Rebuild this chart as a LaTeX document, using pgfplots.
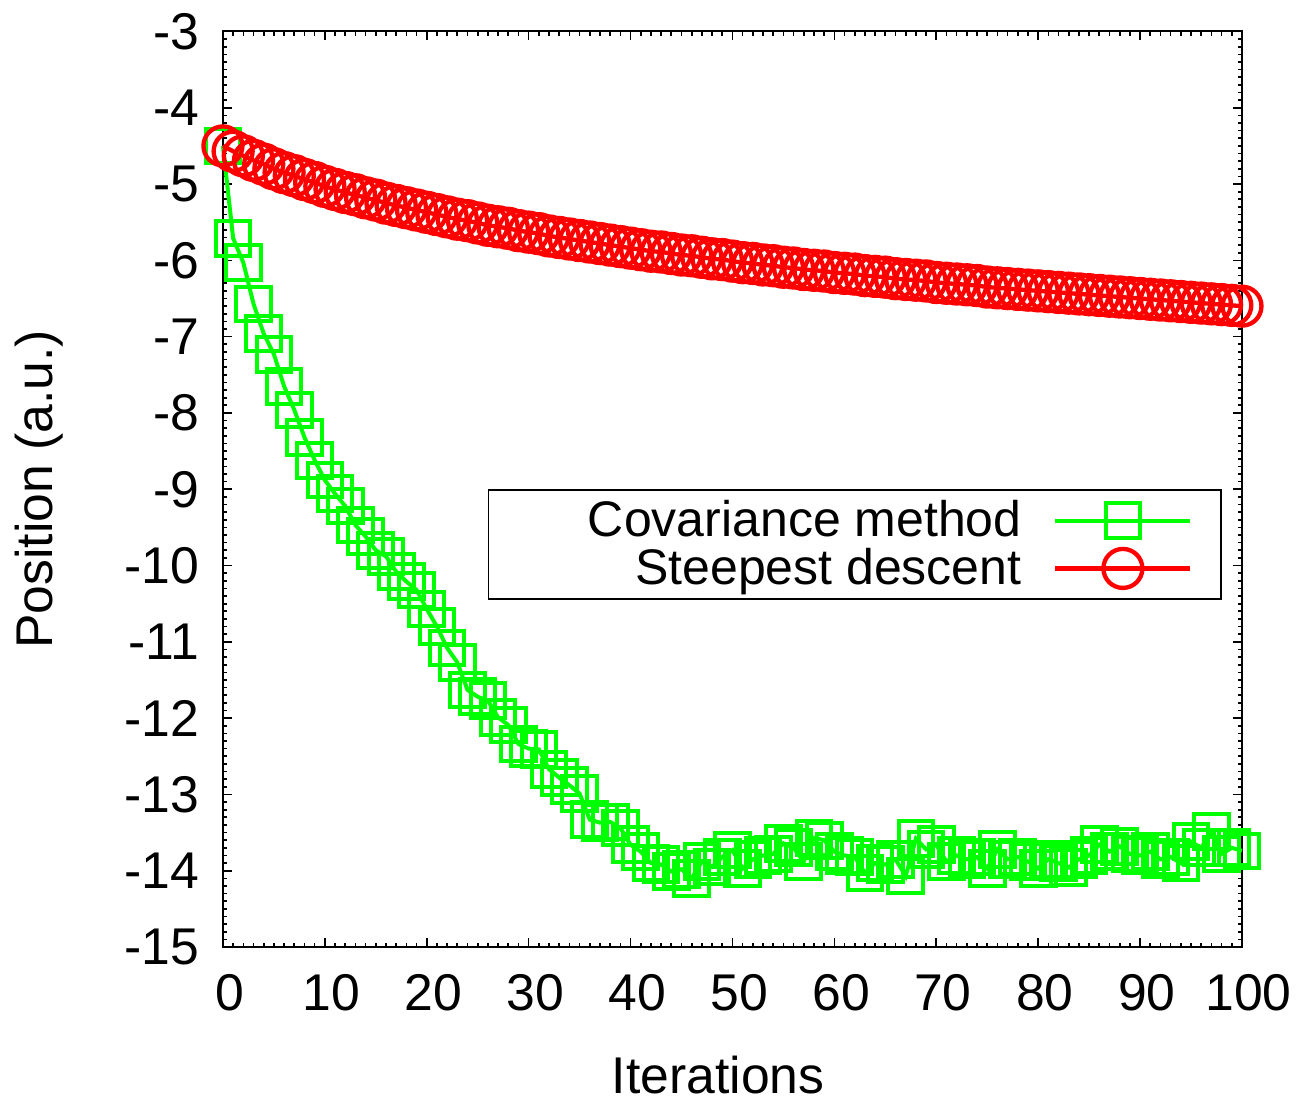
\documentclass[border=0pt]{standalone}
\usepackage{fontspec}
\setmainfont{Liberation Sans}
\usepackage{pgfplots}
\pgfplotsset{compat=1.18}
\definecolor{gpgreen}{RGB}{0,255,0}
\definecolor{gpred}{RGB}{255,0,0}
\newcommand{\gpfont}{\fontsize{15.5}{15.5}\selectfont}
\newcommand{\gplegfont}{\fontsize{15}{15}\selectfont}

\pgfplotstableread{
x y
0 -4.50
1 -5.71
2 -6.03
3 -6.57
4 -6.96
5 -7.23
6 -7.65
7 -7.96
8 -8.32
9 -8.62
10 -8.88
11 -9.06
12 -9.22
13 -9.47
14 -9.62
15 -9.80
16 -9.88
17 -10.08
18 -10.21
19 -10.32
20 -10.57
21 -10.80
22 -11.08
23 -11.27
24 -11.63
25 -11.72
26 -11.77
27 -11.99
28 -12.09
29 -12.34
30 -12.40
31 -12.41
32 -12.67
33 -12.78
34 -12.88
35 -12.99
36 -13.33
37 -13.37
38 -13.36
39 -13.44
40 -13.66
41 -13.75
42 -13.90
43 -13.92
44 -14.01
45 -13.98
46 -14.10
47 -13.88
48 -13.95
49 -13.82
50 -13.73
51 -13.97
52 -13.85
53 -13.80
54 -13.78
55 -13.64
56 -13.70
57 -13.88
58 -13.57
59 -13.60
60 -13.75
61 -13.80
62 -13.82
63 -14.03
64 -13.90
65 -13.92
66 -13.85
67 -14.07
68 -13.58
69 -13.72
70 -13.66
71 -13.88
72 -13.80
73 -13.85
74 -13.82
75 -13.97
76 -13.72
77 -13.85
78 -13.82
79 -13.88
80 -13.97
81 -13.85
82 -13.90
83 -13.96
84 -13.85
85 -13.80
86 -13.66
87 -13.75
88 -13.68
89 -13.78
90 -13.80
91 -13.75
92 -13.85
93 -13.82
94 -13.90
95 -13.62
96 -13.70
97 -13.49
98 -13.78
99 -13.70
100 -13.74
}\covtable

\pgfplotstableread{
x y
0 -4.50
1 -4.57
2 -4.63
3 -4.69
4 -4.74
5 -4.80
6 -4.85
7 -4.89
8 -4.94
9 -4.98
10 -5.03
11 -5.07
12 -5.11
13 -5.14
14 -5.18
15 -5.21
16 -5.25
17 -5.28
18 -5.31
19 -5.34
20 -5.37
21 -5.40
22 -5.43
23 -5.46
24 -5.48
25 -5.51
26 -5.54
27 -5.56
28 -5.58
29 -5.61
30 -5.63
31 -5.65
32 -5.68
33 -5.70
34 -5.72
35 -5.74
36 -5.76
37 -5.78
38 -5.80
39 -5.82
40 -5.84
41 -5.86
42 -5.88
43 -5.89
44 -5.91
45 -5.93
46 -5.94
47 -5.96
48 -5.98
49 -5.99
50 -6.01
51 -6.03
52 -6.04
53 -6.06
54 -6.07
55 -6.09
56 -6.10
57 -6.12
58 -6.13
59 -6.14
60 -6.16
61 -6.17
62 -6.18
63 -6.20
64 -6.21
65 -6.22
66 -6.24
67 -6.25
68 -6.26
69 -6.27
70 -6.29
71 -6.30
72 -6.31
73 -6.32
74 -6.33
75 -6.35
76 -6.36
77 -6.37
78 -6.38
79 -6.39
80 -6.40
81 -6.41
82 -6.42
83 -6.43
84 -6.44
85 -6.45
86 -6.46
87 -6.47
88 -6.48
89 -6.49
90 -6.50
91 -6.51
92 -6.52
93 -6.53
94 -6.54
95 -6.55
96 -6.56
97 -6.57
98 -6.58
99 -6.59
100 -6.60
}\sdtable

\begin{document}
\begin{tikzpicture}
\begin{axis}[
    scale only axis,
    width=305.7pt, height=274.65pt,
    xmin=0, xmax=100, ymin=-15, ymax=-3,
    xtick={0,10,...,100}, ytick={-15,-14,...,-3},
    minor x tick num=9, minor y tick num=9,
    tick align=inside,
    major tick length=2.6pt, minor tick length=1.3pt,
    axis line style={line width=0.6pt},
    tick style={line width=0.5pt, black},
    /pgf/number format/assume math mode=true,
    ticklabel style={font=\gpfont, inner sep=0pt},
    xticklabel style={yshift=-8pt, xshift=2pt},
    yticklabel style={xshift=-7pt},
    every axis x label/.style={at={(rel axis cs:0.486,-0.140)}, anchor=center, inner sep=0pt, font=\gpfont},
    every axis y label/.style={at={(rel axis cs:-0.180,0.5)}, rotate=90, anchor=center, inner sep=0pt, font=\gpfont},
    xlabel={Iterations},
    ylabel={Position (a.u.)},
    clip=false,
    legend plot pos=right,
    legend cell align=right,
    legend image code/.code={
      \draw[mark repeat=2, mark phase=2] plot coordinates {(0pt,0pt) (20.25pt,0pt) (40.5pt,0pt)};
      \path (47pt,0pt);
    },
    legend style={at={(rel axis cs:0.980,0.500)}, anchor=north east,
      draw=black, line width=0.4pt, font=\gplegfont,
      inner xsep=2pt, inner ysep=1pt, row sep=-2pt, column sep=7.5pt},
]
\addplot[gpgreen, line width=1.2pt, mark=square, mark size=5.2pt, mark options={line width=1.2pt}]
  table[x=x, y=y] {\covtable};
\addlegendentry{\makebox[156pt][r]{Covariance method}}
\addplot[gpred, line width=1.3pt, mark=o, mark size=5.85pt, mark options={line width=1.3pt}]
  table[x=x, y=y] {\sdtable};
\addlegendentry{\makebox[156pt][r]{Steepest descent}}
\path (rel axis cs:-0.2188,-0.1750) rectangle (rel axis cs:1.054,1.0344);
\end{axis}
\end{tikzpicture}
\end{document}
